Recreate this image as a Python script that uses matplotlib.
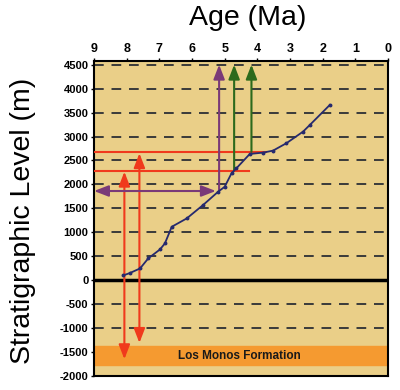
import matplotlib.pyplot as plt

plt.rcParams['font.family'] = ['Liberation Sans', 'DejaVu Sans']

# age-depth curve
curve_age = [8.1, 7.9, 7.59, 7.34, 6.98, 6.83, 6.62, 6.16, 5.66, 5.2, 5.0, 4.79, 4.64, 4.23, 3.82, 3.52, 3.11, 2.6, 2.39, 1.78]
curve_lvl = [100, 150, 245, 454, 642, 767, 1115, 1290, 1570, 1847, 1950, 2232, 2337, 2636, 2664, 2705, 2860, 3102, 3243, 3660]

grid_levels = [-1000, -500, 500, 1000, 1500, 2000, 2500, 3000, 3500, 4000, 4500]
x_ticks = [9, 8, 7, 6, 5, 4, 3, 2, 1, 0]
y_ticks = [-2000, -1500, -1000, -500, 0, 500, 1000, 1500, 2000, 2500, 3000, 3500, 4000, 4500]

# red correlation lines: horizontal level, right end age
red_levels = [2287, 2671]
red_ends = [4.25, 3.75]
# red vertical arrows: age, top tip, bottom tip
red_ages = [8.07, 7.61]
red_tops = [2265, 2650]
red_bottoms = [-1650, -1310]

purple_level = 1862
purple_age = 5.17
green_ages = [4.71, 4.18]
green_starts = [2290, 2680]

monos_bottom = -1780
monos_top = -1380

bg = '#eacf88'
red = '#f03a1c'
purple = '#7a3a78'
green = '#2c6a1c'
navy = '#262a6e'

fig = plt.figure(figsize=(4, 3.9), dpi=100)
ax = fig.add_axes([0.235, 0.036, 0.735, 0.808])
ax.set_facecolor(bg)
ax.set_xlim(9, 0)
ax.set_ylim(-2000, 4580)

ax.axhspan(monos_bottom, monos_top, color='#f59a30', zorder=1)
ax.text(4.55, (monos_bottom + monos_top) / 2, 'Los Monos Formation', ha='center', va='center',
        fontsize=8.5, fontweight='bold', color='#1a1a1a', zorder=2)

for lv in grid_levels:
    ax.axhline(lv, color='#3a3a3a', lw=1.4, ls=(0, (5, 4)), zorder=2)
ax.axhline(0, color='black', lw=2.5, zorder=3)

head = dict(mutation_scale=14, shrinkA=0, shrinkB=0)
one_way = '-|>,head_length=0.62,head_width=0.24'
two_way = '<|-|>,head_length=0.62,head_width=0.24'

for lv, xe in zip(red_levels, red_ends):
    ax.plot([9, xe], [lv, lv], color=red, lw=1.5, zorder=4)
for a, t, b in zip(red_ages, red_tops, red_bottoms):
    ax.annotate('', xy=(a, t), xytext=(a, b),
                arrowprops=dict(arrowstyle=two_way, color=red, lw=1.5, **head), zorder=5)

ax.annotate('', xy=(9, purple_level), xytext=(purple_age + 0.1, purple_level),
            arrowprops=dict(arrowstyle=two_way, color=purple, lw=1.5, **head), zorder=5)
ax.annotate('', xy=(purple_age, 4500), xytext=(purple_age, purple_level),
            arrowprops=dict(arrowstyle=one_way, color=purple, lw=1.5, **head), zorder=5)

for a, s in zip(green_ages, green_starts):
    ax.annotate('', xy=(a, 4500), xytext=(a, s),
                arrowprops=dict(arrowstyle=one_way, color=green, lw=1.5, **head), zorder=5)

ax.plot(curve_age, curve_lvl, color=navy, lw=1.3, marker='o', ms=1.8, zorder=6)

ax.xaxis.tick_top()
ax.set_xticks(x_ticks)
ax.set_xticklabels([str(v) for v in x_ticks], fontsize=9, fontweight='bold')
ax.set_yticks(y_ticks)
ax.set_yticklabels([str(v) for v in y_ticks], fontsize=8, fontweight='bold')
ax.tick_params(axis='both', length=2, width=1, pad=2)
for sp in ax.spines.values():
    sp.set_linewidth(1.5)

fig.text(0.62, 0.953, 'Age (Ma)', ha='center', va='center', fontsize=20.5)
fig.text(0.057, 0.433, 'Stratigraphic Level (m)', ha='center', va='center', fontsize=20.5, rotation=90)

fig.savefig('out.png', dpi=100, facecolor='white')
